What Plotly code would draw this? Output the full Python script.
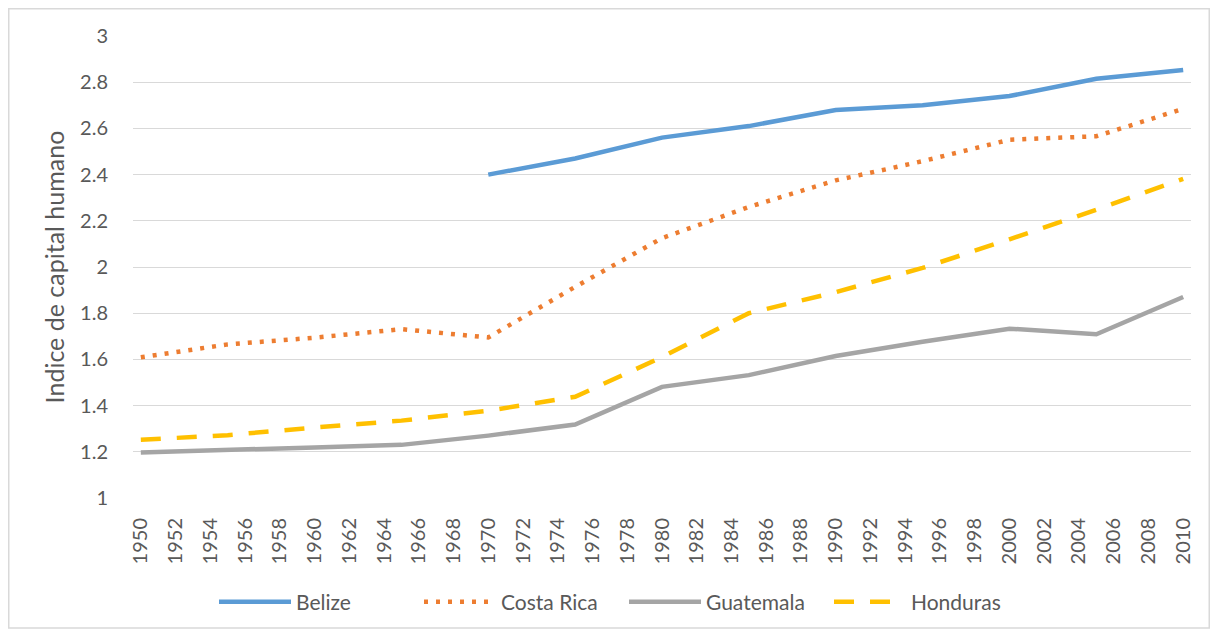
import plotly.graph_objects as go

years = [1950, 1955, 1960, 1965, 1970, 1975, 1980, 1985, 1990, 1995, 2000, 2005, 2010]
belize = [None, None, None, None, 2.40, 2.47, 2.56, 2.61, 2.68, 2.70, 2.74, 2.815, 2.853]
costa_rica = [1.609, 1.665, 1.694, 1.731, 1.695, 1.914, 2.125, 2.26, 2.375, 2.458, 2.551, 2.566, 2.685]
guatemala = [1.197, 1.21, 1.219, 1.23, 1.27, 1.318, 1.481, 1.532, 1.615, 1.676, 1.733, 1.709, 1.870]
honduras = [1.252, 1.272, 1.305, 1.335, 1.378, 1.438, 1.61, 1.80, 1.891, 1.996, 2.12, 2.248, 2.382]

x_ticks = list(range(1950, 2011, 2))
y_ticks = [1, 1.2, 1.4, 1.6, 1.8, 2, 2.2, 2.4, 2.6, 2.8, 3]
y_tick_text = ["1", "1.2", "1.4", "1.6", "1.8", "2", "2.2", "2.4", "2.6", "2.8", "3"]

FONT = "Lato, 'Liberation Sans', sans-serif"
fig = go.Figure()
fig.add_trace(go.Scatter(x=years, y=belize, name="Belize", mode="lines",
                         line=dict(color="#5B9BD5", width=4.5)))
fig.add_trace(go.Scatter(x=years, y=costa_rica, name="Costa Rica", mode="lines",
                         line=dict(color="#ED7D31", width=4.5, dash="4px,8px")))
fig.add_trace(go.Scatter(x=years, y=guatemala, name="Guatemala", mode="lines",
                         line=dict(color="#A5A5A5", width=4.5)))
fig.add_trace(go.Scatter(x=years, y=honduras, name="Honduras", mode="lines",
                         line=dict(color="#FFC000", width=4.5, dash="20px,16px")))

# page has an 8px body margin; figure coordinates are page coordinates minus 8
OFF = 8
W, H = 1202, 621
L, R, T, B = 133 - OFF, W - (1191 - OFF), 36 - OFF, H - (498 - OFF)
pw, ph = W - L - R, H - T - B

def px(xp):
    return (xp - OFF - L) / pw

def py(yp):
    return (H - B - (yp - OFF)) / ph

fig.update_layout(
    width=W, height=H, autosize=False,
    margin=dict(l=L, r=R, t=T, b=B, autoexpand=False),
    paper_bgcolor="white", plot_bgcolor="white",
    font=dict(family=FONT, color="#595959", size=20),
    showlegend=True,
    legend=dict(orientation="h", x=px(214), xanchor="left", y=py(602), yanchor="middle",
                font=dict(size=21, color="#595959"), itemwidth=72, tracegroupgap=0,
                entrywidth=118),
    xaxis=dict(range=[1949.55, 2010.45], tickmode="array", tickvals=x_ticks,
               ticktext=[str(v) for v in x_ticks], tickangle=-90, automargin=False,
               showgrid=False, zeroline=False, showline=False,
               ticks="outside", ticklen=11, tickcolor="rgba(0,0,0,0)",
               tickfont=dict(size=20, color="#595959")),
    yaxis=dict(range=[1, 3], tickmode="array", tickvals=y_ticks, ticktext=y_tick_text,
               automargin=False,
               showgrid=True, gridcolor="#D9D9D9", gridwidth=1.3, zeroline=False,
               showline=False, ticks="outside", ticklen=20, tickcolor="rgba(0,0,0,0)",
               tickfont=dict(size=20, color="#595959"),
               title=dict(text="Indice de capital humano", font=dict(size=25, color="#595959"),
                          standoff=8)),
    shapes=[dict(type="rect", xref="paper", yref="paper",
                 x0=(0.75 - L) / pw, x1=(W - 0.75 - L) / pw,
                 y0=(H - B - (H - 1)) / ph, y1=(H - B - 0.75) / ph,
                 line=dict(color="#D9D9D9", width=1.5), fillcolor="rgba(0,0,0,0)",
                 layer="below")],
)

fig.write_html("out.html")
